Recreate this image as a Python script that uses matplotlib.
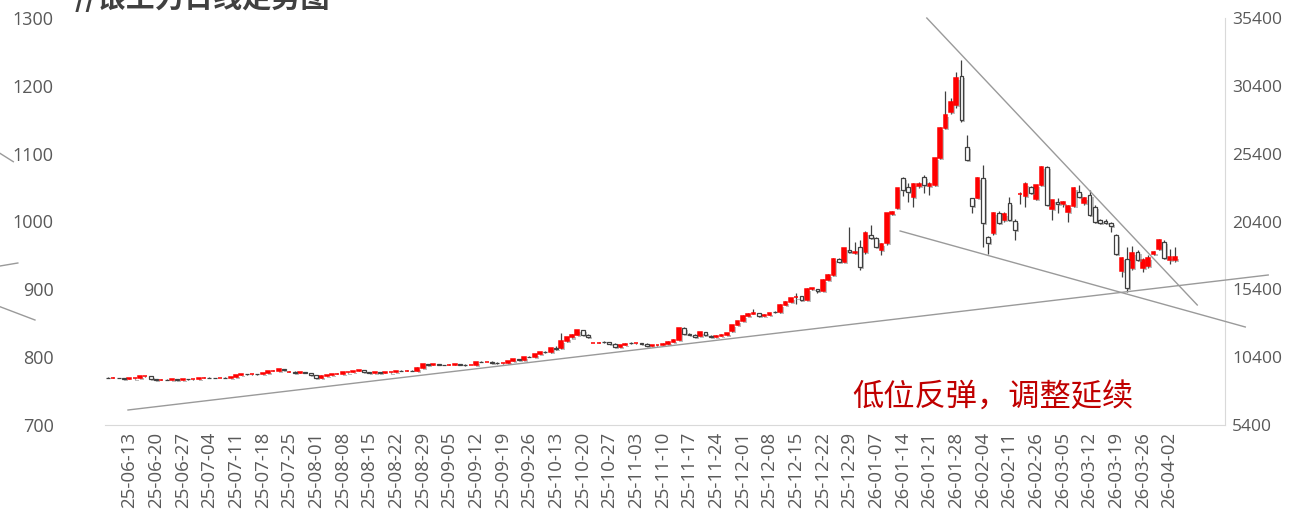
import numpy as np
import matplotlib
matplotlib.use("Agg")
import matplotlib.pyplot as plt
import matplotlib.patheffects as pe

plt.rcParams['font.family'] = ['Noto Sans CJK SC', 'DejaVu Sans']
num_font = ['Open Sans', 'DejaVu Sans']

# weekly tick labels (every 5 trading days)
tick_labels = ['25-06-13', '25-06-20', '25-06-27', '25-07-04', '25-07-11', '25-07-18',
               '25-07-25', '25-08-01', '25-08-08', '25-08-15', '25-08-22', '25-08-29',
               '25-09-05', '25-09-12', '25-09-19', '25-09-26', '25-10-13', '25-10-20',
               '25-10-27', '25-11-03', '25-11-10', '25-11-17', '25-11-24', '25-12-01',
               '25-12-08', '25-12-15', '25-12-22', '25-12-29', '26-01-07', '26-01-14',
               '26-01-21', '26-01-28', '26-02-04', '26-02-11', '26-02-26', '26-03-05',
               '26-03-12', '26-03-19', '26-03-26', '26-04-02']

# daily OHLC (right axis units)
opens = [8900, 8880, 8890, 8860, 8800, 8830, 8890, 8990, 9000, 8780,
         8740, 8750, 8740, 8760, 8750, 8770, 8760, 8780, 8860, 8890,
         8880, 8870, 8890, 8850, 8950, 9060, 9150, 9140, 9160, 9150,
         9250, 9380, 9400, 9510, 9300, 9340, 9260, 9270, 9220, 9050,
         8900, 9030, 9100, 9170, 9180, 9270, 9290, 9380, 9420, 9310,
         9260, 9280, 9250, 9270, 9320, 9390, 9380, 9410, 9400, 9620,
         9900, 9840, 9860, 9830, 9820, 9830, 9860, 9830, 9800, 9840,
         10050, 10030, 10070, 9990, 9950, 9980, 10130, 10260, 10220, 10420,
         10400, 10620, 10780, 10760, 11070, 11050, 11600, 11850, 12050, 12380,
         12050, 11450, 11460, 11540, 11500, 11400, 11150, 11280, 11470, 11420,
         11440, 11400, 11250, 11270, 11310, 11400, 11540, 11700, 12550, 12110,
         12050, 11960, 12250, 11990, 11920, 11980, 12060, 12300, 12770, 13070,
         13430, 13600, 13620, 13420, 13530, 13720, 13700, 14270, 14480, 14800,
         14900, 14610, 15420, 15400, 15300, 16100, 16450, 17650, 17450, 18300,
         18080, 18550, 18150, 19400, 19180, 18300, 18800, 20950, 21400, 23600,
         22950, 22200, 23000, 23700, 23000, 23100, 25080, 27290, 28470, 28990,
         31120, 25900, 22130, 22130, 23600, 19260, 19550, 21030, 20510, 21760,
         20440, 22430, 22250, 22960, 22060, 23090, 24440, 21320, 21840, 21690,
         21100, 21550, 22600, 21770, 22350, 21500, 20500, 20440, 20310, 19400,
         16770, 17620, 16970, 18150, 16950, 17120, 18000, 18370, 18910, 17560,
         17560]
highs = [8920, 8910, 8900, 8880, 8840, 8900, 9010, 9030, 9010, 8800,
         8770, 8780, 8770, 8780, 8780, 8790, 8790, 8880, 8910, 8910,
         8900, 8900, 8910, 8960, 9080, 9170, 9180, 9170, 9180, 9260,
         9390, 9450, 9530, 9530, 9360, 9350, 9290, 9280, 9230, 9060,
         9050, 9110, 9190, 9200, 9280, 9300, 9400, 9440, 9430, 9330,
         9290, 9300, 9280, 9330, 9400, 9420, 9430, 9440, 9640, 9920,
         9930, 9880, 9890, 9850, 9860, 9880, 9880, 9860, 9850, 10070,
         10090, 10080, 10090, 10010, 10000, 10150, 10280, 10300, 10440, 10460,
         10650, 10800, 10830, 11100, 11220, 12180, 11900, 12100, 12420, 12400,
         12080, 11480, 11490, 11560, 11510, 11420, 11300, 11420, 11500, 11460,
         11470, 11420, 11290, 11330, 11420, 11560, 11720, 12580, 12600, 12150,
         12080, 12270, 12280, 12000, 12000, 12080, 12200, 12800, 13100, 13480,
         13630, 13930, 13650, 13560, 13680, 13800, 14300, 14520, 14780, 15100,
         14920, 15500, 15520, 15450, 16140, 16500, 17720, 17700, 18470, 20020,
         18910, 19040, 19700, 20140, 19250, 18800, 21050, 21150, 22900, 23680,
         23250, 23260, 23300, 23800, 23300, 25100, 27400, 30000, 29500, 31440,
         32300, 26780, 22140, 23650, 24560, 19300, 21100, 21200, 21100, 22200,
         20600, 22570, 23300, 23000, 23100, 24460, 24460, 22000, 22100, 21900,
         21600, 22950, 23100, 22200, 22700, 21650, 20600, 20550, 20400, 19500,
         17800, 18540, 18600, 18300, 17700, 17900, 18200, 19100, 19000, 18400,
         18500]
lows = [8870, 8860, 8850, 8780, 8780, 8820, 8880, 8960, 8760, 8720,
        8710, 8720, 8720, 8730, 8730, 8740, 8740, 8770, 8850, 8860,
        8850, 8860, 8830, 8840, 8940, 9050, 9120, 9100, 9120, 9140,
        9240, 9360, 9390, 9420, 9280, 9240, 9230, 9200, 9080, 8880,
        8890, 9010, 9080, 9140, 9170, 9240, 9280, 9360, 9300, 9250,
        9240, 9240, 9230, 9260, 9310, 9360, 9370, 9380, 9390, 9610,
        9820, 9800, 9810, 9800, 9790, 9800, 9820, 9780, 9790, 9830,
        10010, 10020, 9970, 9900, 9930, 9970, 10120, 10200, 10210, 10380,
        10390, 10610, 10730, 10740, 10950, 11000, 11550, 11780, 12000, 12000,
        11800, 11420, 11430, 11480, 11380, 11130, 11120, 11260, 11400, 11380,
        11380, 11230, 11220, 11250, 11300, 11390, 11520, 11680, 12100, 12000,
        11900, 11940, 11990, 11900, 11900, 11960, 12040, 12280, 12750, 13050,
        13400, 13550, 13380, 13400, 13500, 13650, 13680, 14250, 14460, 14350,
        14560, 14590, 15380, 15100, 15280, 16080, 16400, 17400, 17420, 18080,
        18000, 16830, 18000, 19100, 18500, 17930, 18700, 20900, 21350, 22280,
        21850, 21470, 22900, 22500, 22350, 23000, 25000, 27200, 28300, 28800,
        27760, 24900, 21030, 22100, 18540, 18000, 19400, 20250, 20400, 20450,
        19040, 21690, 21500, 22400, 22000, 23000, 21600, 20510, 21000, 21500,
        20390, 21500, 22200, 21600, 20800, 20270, 20250, 20200, 19650, 17900,
        16300, 15230, 16800, 17500, 16700, 17000, 17950, 18300, 17600, 17300,
        17450]
closes = [8880, 8890, 8860, 8800, 8830, 8890, 8990, 9000, 8780, 8740,
          8750, 8740, 8760, 8750, 8770, 8760, 8780, 8860, 8890, 8880,
          8870, 8890, 8850, 8950, 9060, 9150, 9140, 9160, 9150, 9250,
          9380, 9400, 9510, 9440, 9340, 9260, 9270, 9220, 9100, 8900,
          9030, 9100, 9170, 9180, 9270, 9290, 9380, 9420, 9310, 9260,
          9280, 9250, 9270, 9320, 9390, 9380, 9410, 9400, 9620, 9900,
          9840, 9860, 9830, 9820, 9830, 9860, 9830, 9800, 9840, 10050,
          10030, 10070, 9990, 9950, 9980, 10130, 10260, 10220, 10420, 10400,
          10620, 10780, 10760, 11070, 11000, 11600, 11850, 12050, 12380, 12050,
          11900, 11460, 11470, 11500, 11400, 11150, 11280, 11400, 11420, 11440,
          11400, 11250, 11270, 11310, 11400, 11540, 11700, 12550, 12110, 12050,
          11920, 12250, 12010, 11920, 11980, 12060, 12180, 12770, 13070, 13430,
          13600, 13620, 13420, 13530, 13650, 13700, 14270, 14480, 14750, 14810,
          14610, 15420, 15500, 15300, 16100, 16450, 17650, 17450, 18420, 18150,
          18180, 17030, 19550, 19180, 18550, 18740, 21000, 21100, 22870, 22720,
          22570, 23160, 23160, 23080, 23160, 25080, 27290, 28250, 29200, 30980,
          27880, 24930, 21540, 23600, 20290, 18810, 21030, 20290, 20950, 20510,
          19770, 22450, 23160, 22500, 23090, 24440, 21620, 21990, 21700, 21840,
          21550, 22870, 22230, 22130, 20880, 20390, 20320, 20280, 20070, 18000,
          17690, 15480, 18080, 17560, 17560, 17710, 18150, 19040, 17690, 17800,
          17800]

W, H = 1294, 521
fig = plt.figure(figsize=(W / 100, H / 100), dpi=100)
ax_left = fig.add_axes([105 / W, 96 / H, 1120 / W, 407 / H])
ax = ax_left.twinx()

x = np.arange(len(closes))
o = np.array(opens, dtype=float)
c = np.array(closes, dtype=float)
h = np.array(highs, dtype=float)
l = np.array(lows, dtype=float)
up = c > o

# wicks
ax.vlines(x, l, h, color='#404040', lw=0.9, zorder=2)

# bodies, with a soft drop shadow like the original
bottom = np.minimum(o, c)
height = np.abs(c - o)
shadow = [pe.SimplePatchShadow(offset=(1.5, -1.5), shadow_rgbFace='#7F7F7F', alpha=0.5), pe.Normal()]
red_bars = ax.bar(x[up], height[up], bottom=bottom[up], width=0.72,
                  color='#FF0000', edgecolor='#FF0000', lw=1.1, zorder=3)
white_bars = ax.bar(x[~up], height[~up], bottom=bottom[~up], width=0.72,
                    color='white', edgecolor='#404040', lw=0.9, zorder=3)
for p in list(red_bars) + list(white_bars):
    p.set_path_effects(shadow)

# trend lines (drawn by hand on the chart, they run past the plot area)
line_kw = dict(color='#9A9A9A', lw=1.0, clip_on=False, zorder=4)
ax.plot([3.75, 217.5], [6506, 16457], **line_kw)
ax.plot([153.5, 204.2], [35400, 14245], **line_kw)
ax.plot([148.5, 213.2], [19700, 12624], **line_kw)
ax.plot([-20.25, -17.75], [25427, 24808], **line_kw)
ax.plot([-20.25, -16.9], [17120, 17341], **line_kw)
ax.plot([-20.25, -13.69], [14120, 13140], **line_kw)

# axes
ax_left.set_xlim(-0.56, 209.4)
ax_left.set_ylim(700, 1300)
ax_left.set_yticks(range(700, 1301, 100))
ax.set_ylim(5400, 35400)
ax.set_yticks(range(5400, 35401, 5000))

tick_pos = 4 + 5 * np.arange(len(tick_labels))
ax_left.set_xticks(tick_pos)
ax_left.set_xticklabels(tick_labels, rotation=90)

lab_col = '#595959'
ax_left.tick_params(axis='y', length=0, pad=37, labelsize=13, labelcolor=lab_col)
ax_left.tick_params(axis='x', length=0, pad=5, labelsize=13.5, labelcolor=lab_col)
ax.tick_params(axis='y', length=0, pad=5, labelsize=12.5, labelcolor=lab_col)
for t in ax_left.get_yticklabels() + ax_left.get_xticklabels() + ax.get_yticklabels():
    t.set_family(num_font)

for a in (ax_left, ax):
    for s in a.spines.values():
        s.set_visible(False)
ax_left.spines['bottom'].set_visible(True)
ax_left.spines['bottom'].set_color('#D9D9D9')
ax.spines['right'].set_visible(True)
ax.spines['right'].set_color('#D9D9D9')

# text
fig.text(852 / W, 1 - 398 / H, '低位反弹，调整延续', color='#C00000',
         fontsize=22.5, va='center', ha='left')
fig.text(75 / W, 1 - 7 / H, '//银主力日线走势图', color='#404040',
         fontsize=21, fontweight='bold', va='baseline', ha='left')

fig.savefig('out.png', dpi=100)
